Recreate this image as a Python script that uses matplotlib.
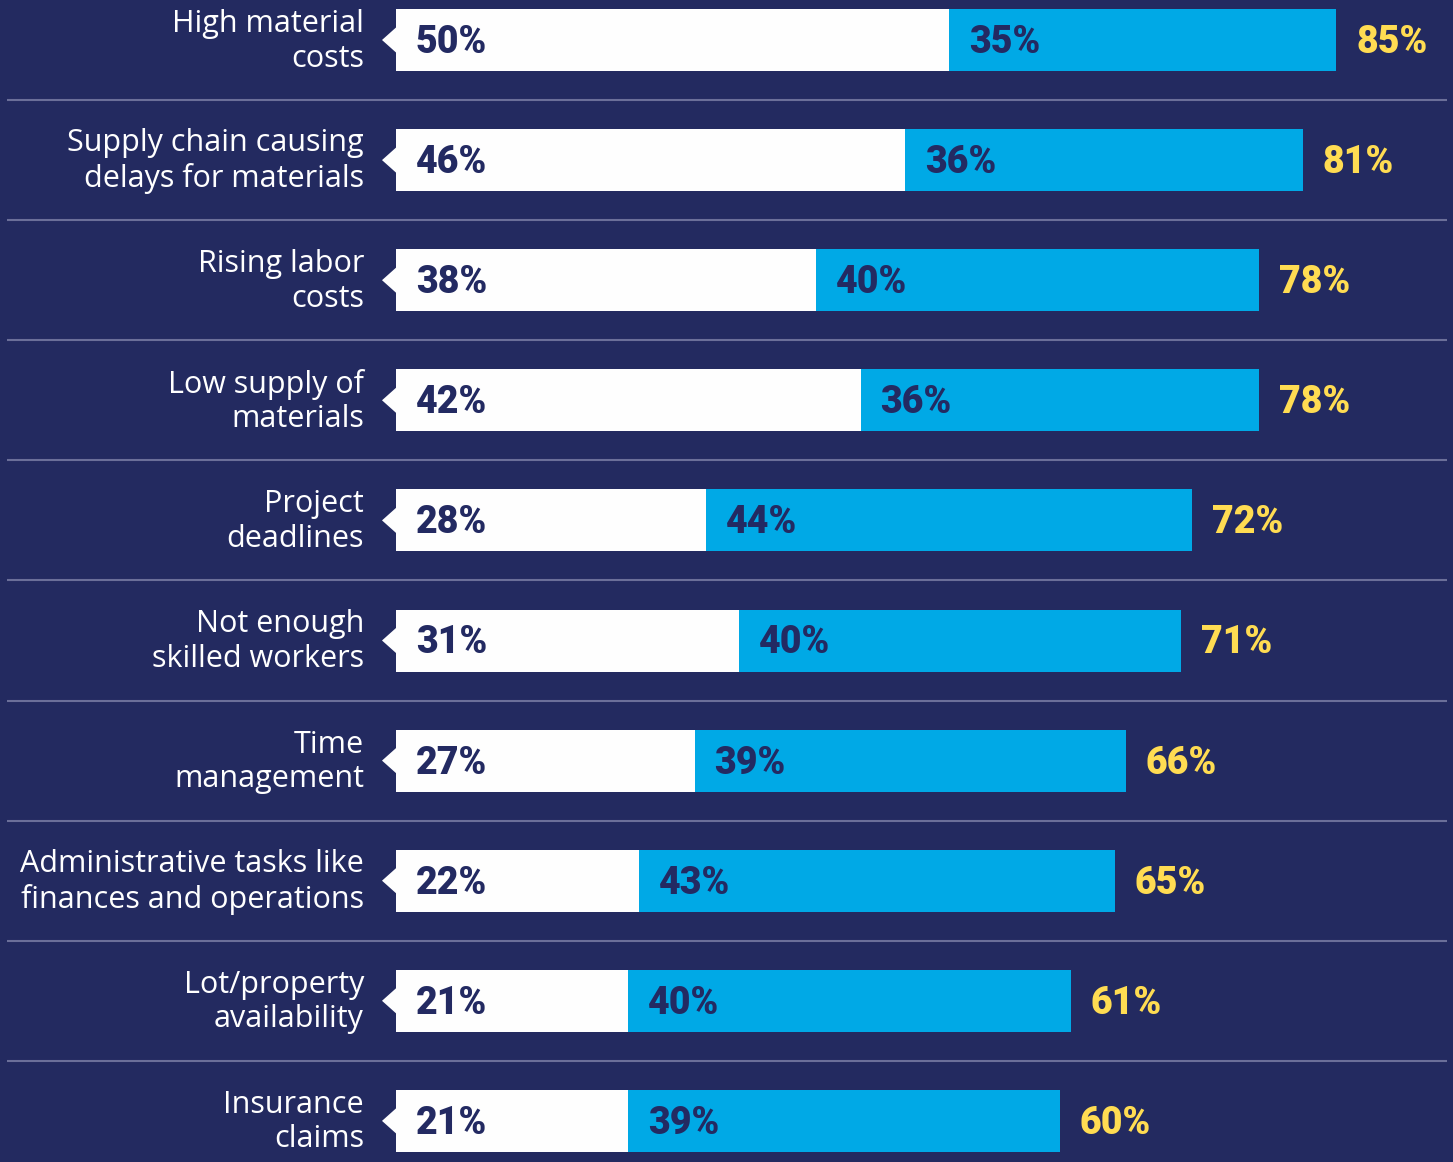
import matplotlib
matplotlib.use("Agg")
import matplotlib.pyplot as plt
from matplotlib.patches import Polygon

# Survey data: share of respondents per challenge
categories = [
    "High material\ncosts",
    "Supply chain causing\ndelays for materials",
    "Rising labor\ncosts",
    "Low supply of\nmaterials",
    "Project\ndeadlines",
    "Not enough\nskilled workers",
    "Time\nmanagement",
    "Administrative tasks like\nfinances and operations",
    "Lot/property\navailability",
    "Insurance\nclaims",
]
first_values = [50, 46, 38, 42, 28, 31, 27, 22, 21, 21]
second_values = [35, 36, 40, 36, 44, 40, 39, 43, 40, 39]
totals = [85, 81, 78, 78, 72, 71, 66, 65, 61, 60]

BG = "#232a60"
BLUE = "#00a9e6"
WHITE = "#fefefe"
YELLOW = "#ffdc52"
NAVY = "#232a62"
SEP = "#6b6f99"

W, H = 1453, 1162
fig = plt.figure(figsize=(W / 100, H / 100), dpi=100, facecolor=BG)
ax = fig.add_axes([0, 0, 1, 1], facecolor=BG)

# pixel-calibrated data limits: 0% at x=396px, 11.06 px per percent; rows 120.1 px apart
px_per_pct = 11.06
x0_px = 396
row_px = 120.1
first_row_px = 40
ax.set_xlim(-x0_px / px_per_pct, (W - x0_px) / px_per_pct)
ax.set_ylim((H - first_row_px) / row_px, -first_row_px / row_px)
ax.axis("off")

bar_h = 62 / row_px
n = len(categories)
ys = list(range(n))

ax.barh(ys, first_values, height=bar_h, color=WHITE, zorder=2)
ax.barh(ys, second_values, left=first_values, height=bar_h, color=BLUE, zorder=2)

pad = 20 / px_per_pct
tri_w = 14 / px_per_pct
tri_h = 26 / row_px
for i, (a, b, t, lab) in enumerate(zip(first_values, second_values, totals, categories)):
    # pointer on the left of each bar
    ax.add_patch(Polygon([(0.05, i - tri_h / 2), (0.05, i + tri_h / 2), (-tri_w, i)],
                         closed=True, facecolor=WHITE, edgecolor="none", zorder=2))
    kw = dict(va="center", ha="left", fontsize=27, fontweight="black",
              family="Roboto", zorder=3)
    ax.text(pad, i + 0.02, f"{a}%", color=NAVY, **kw)
    ax.text(a + pad, i + 0.02, f"{b}%", color=NAVY, **kw)
    ax.text(a + b + pad, i + 0.02, f"{t}%", color=YELLOW, **kw)
    ax.text(-32 / px_per_pct, i + 0.01, lab, ha="right", va="center", color="white",
            fontsize=22, family="Open Sans", linespacing=1.2, zorder=3)
    if i < n - 1:
        ax.plot([-389 / px_per_pct, (1447 - x0_px) / px_per_pct], [i + 0.5, i + 0.5],
                color=SEP, lw=1.5, zorder=1, solid_capstyle="butt")

fig.savefig("out.png", dpi=100, facecolor=BG)
